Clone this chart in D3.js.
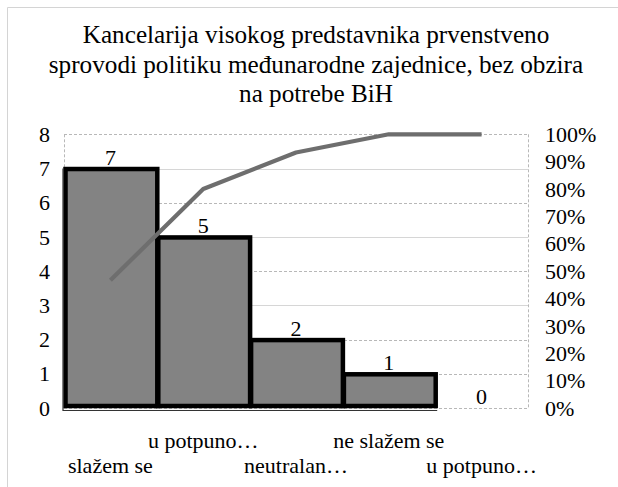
<!DOCTYPE html>
<html>
<head>
<meta charset="utf-8">
<script src="https://cdn.jsdelivr.net/npm/d3@7"></script>
<style>
  body { margin: 0; background: #fff; }
  svg text { font-family: "Liberation Serif", "Times New Roman", serif; fill: #000; }
</style>
</head>
<body>
<svg id="chart" width="618" height="487"></svg>
<script>
// chart data
var titleLines = ["Kancelarija visokog predstavnika prvenstveno",
                  "sprovodi politiku međunarodne zajednice, bez obzira",
                  "na potrebe BiH"];
var categories = ["slažem se", "u potpuno…", "neutralan…", "ne slažem se", "u potpuno…(2)"];
var catLabels = ["slažem se", "u potpuno…", "neutralan…", "ne slažem se", "u potpuno…"];
var counts = [7, 5, 2, 1, 0];
var leftTicks = [0, 1, 2, 3, 4, 5, 6, 7, 8];
var rightTicks = [0, 0.1, 0.2, 0.3, 0.4, 0.5, 0.6, 0.7, 0.8, 0.9, 1];

// cumulative share for the pareto line
var total = d3.sum(counts);
var cumulative = [];
var run = 0;
for (var i = 0; i < counts.length; i++) {
  run += counts[i];
  cumulative.push(run / total);
}

var svg = d3.select("#chart");

//plot area (names avoid window.top)
var plotLeft = 64, plotRight = 528, plotTop = 134.3, plotBottom = 408;

var x = d3.scaleBand().domain(categories).range([plotLeft, plotRight]).padding(0);
var y = d3.scaleLinear().domain([0, 8]).range([plotBottom, plotTop]);
var y2 = d3.scaleLinear().domain([0, 1]).range([plotBottom, plotTop]);

// outer chart border (top and left only visible)
svg.append("path")
  .attr("d", "M7.5,487V7.5H618")
  .attr("fill", "none")
  .attr("stroke", "#d4d4d4")
  .attr("stroke-width", 1);

// title
svg.append("text")
  .attr("text-anchor", "middle")
  .style("font-size", "25.2px")
  .selectAll("tspan")
  .data(titleLines)
  .enter().append("tspan")
  .attr("x", 316)
  .attr("y", function(d, i) { return 43 + i * 29.5; })
  .text(function(d) { return d; });

// gridlines
svg.append("g")
  .selectAll("line")
  .data(leftTicks)
  .enter().append("line")
  .attr("x1", plotLeft).attr("x2", plotRight)
  .attr("y1", function(d) { return Math.round(y(d)) + 0.5; })
  .attr("y2", function(d) { return Math.round(y(d)) + 0.5; })
  .attr("stroke", function(d) { return (d % 2 === 1 && d > 1) ? "#d6d6d6" : "#b8b8b8"; })
  .attr("stroke-dasharray", function(d) { return (d % 2 === 1 && d > 1) ? null : "3,2"; });

// plot area sides
svg.append("g")
  .selectAll("line")
  .data([plotLeft, plotRight])
  .enter().append("line")
  .attr("x1", function(d) { return d + 0.5; })
  .attr("x2", function(d) { return d + 0.5; })
  .attr("y1", y(8)).attr("y2", y(0))
  .attr("stroke", "#b8b8b8")
  .attr("stroke-dasharray", "3,2");

// bars
svg.append("g")
  .selectAll("rect")
  .data(counts)
  .enter().append("rect")
  .attr("x", function(d, i) { return x(categories[i]) + 1.5; })
  .attr("y", function(d) { return y(d) + 0.5; })
  .attr("width", x.bandwidth() - 1)
  .attr("height", function(d) { return Math.max(0, y(0) - y(d) - 2.5); })
  .attr("fill", "#838383")
  .attr("stroke", function(d) { return d > 0 ? "#000" : "none"; })
  .attr("stroke-width", 4.5);

// thin outer line of the double border
var lastBar = categories[counts.length - 2];
svg.append("path")
  .attr("d", "M" + (x(categories[0]) - 1) + "," + y(counts[0]) +
             "V" + (y(0) + 2.5) + "H" + (x(lastBar) + x.bandwidth() + 2))
  .attr("fill", "none")
  .attr("stroke", "#333")
  .attr("stroke-width", 1.2);

// data labels
svg.append("g")
  .selectAll("text")
  .data(counts)
  .enter().append("text")
  .attr("x", function(d, i) { return x(categories[i]) + x.bandwidth() / 2; })
  .attr("y", function(d) { return y(d) - 4; })
  .attr("text-anchor", "middle")
  .style("font-size", "22px")
  .text(function(d) { return d; });

// pareto line
var lineFunc = d3.line()
  .x(function(d, i) { return x(categories[i]) + x.bandwidth() / 2; })
  .y(function(d) { return y2(d); });

svg.append("path")
  .attr("d", lineFunc(cumulative))
  .attr("fill", "none")
  .attr("stroke", "#6e6e6e")
  .attr("stroke-width", 4.2)
  .attr("stroke-linejoin", "round");

// left axis labels
svg.append("g")
  .selectAll("text")
  .data(leftTicks)
  .enter().append("text")
  .attr("x", 50)
  .attr("y", function(d) { return y(d); })
  .attr("dy", "0.35em")
  .attr("text-anchor", "end")
  .style("font-size", "22px")
  .text(function(d) { return d; });

// right axis labels
var pct = d3.format(".0%");
svg.append("g")
  .selectAll("text")
  .data(rightTicks)
  .enter().append("text")
  .attr("x", 545)
  .attr("y", function(d) { return y2(d); })
  .attr("dy", "0.35em")
  .style("font-size", "22px")
  .text(function(d) { return pct(d); });

// category labels, staggered over two rows
svg.append("g")
  .selectAll("text")
  .data(catLabels)
  .enter().append("text")
  .attr("x", function(d, i) { return x(categories[i]) + x.bandwidth() / 2; })
  .attr("y", function(d, i) { return i % 2 === 1 ? 448 : 473; })
  .attr("text-anchor", "middle")
  .style("font-size", "22px")
  .text(function(d) { return d; });
</script>
</body>
</html>
